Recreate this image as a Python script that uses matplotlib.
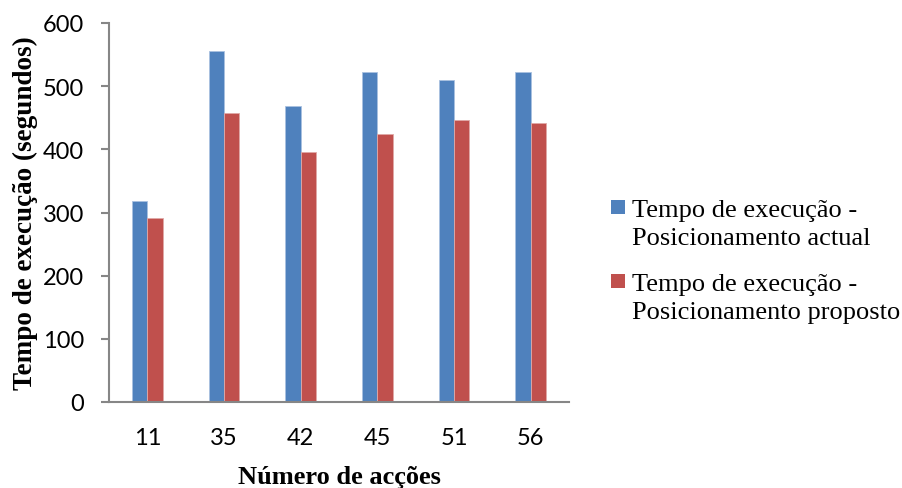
import matplotlib.pyplot as plt
from matplotlib.patches import Rectangle
import numpy as np

# Number of actions per test case and measured execution times (seconds)
acoes = ["11", "35", "42", "45", "51", "56"]
tempo_actual = [318, 556, 469, 522, 509, 522]
tempo_proposto = [292, 457, 396, 425, 446, 441]

serie_labels = [
    ["Tempo de execução -", "Posicionamento actual"],
    ["Tempo de execução -", "Posicionamento proposto"],
]
cores = ["#4F81BD", "#C0504D"]
bordas = ["#A9C1E0", "#E0A9A7"]

W, H = 903, 489
fig = plt.figure(figsize=(W / 100, H / 100), dpi=100)
ax = fig.add_axes([109 / W, 1 - 403 / H, 460 / W, 379 / H])

x = np.arange(len(acoes))
largura = 0.2
ax.bar(x - largura / 2, tempo_actual, largura, color=cores[0],
       edgecolor=bordas[0], linewidth=0.6)
ax.bar(x + largura / 2, tempo_proposto, largura, color=cores[1],
       edgecolor=bordas[1], linewidth=0.6)

ax.set_xlim(-0.5, len(acoes) - 0.5)
ax.set_ylim(0, 600)
ax.set_yticks(range(0, 601, 100))
ax.set_xticks(x)
ax.set_xticklabels(acoes)

for lado in ("top", "right"):
    ax.spines[lado].set_visible(False)
for lado in ("left", "bottom"):
    ax.spines[lado].set_color("#868686")
    ax.spines[lado].set_linewidth(1.5)

ax.tick_params(axis="y", length=6, width=1.5, color="#868686",
               labelsize=17, pad=12)
ax.tick_params(axis="x", length=0, labelsize=17, pad=18)
for lbl in ax.get_xticklabels() + ax.get_yticklabels():
    lbl.set_fontfamily("Lato")

ax.set_xlabel("Número de acções", family="Liberation Serif",
              fontweight="bold", fontsize=19, labelpad=12)
ax.set_ylabel("Tempo de execução (segundos)", family="Liberation Serif",
              fontweight="bold", fontsize=19.5, labelpad=3)

# legend drawn by hand: square marker beside the first line of each label
for i, (cor, linhas) in enumerate(zip(cores, serie_labels)):
    topo = 201 + i * 74
    fig.patches.append(Rectangle((611 / W, 1 - (topo + 14) / H), 14 / W, 14 / H,
                                 transform=fig.transFigure, facecolor=cor,
                                 edgecolor="none"))
    for j, linha in enumerate(linhas):
        fig.text(632 / W, 1 - (topo + 16 + j * 28) / H, linha,
                 family="Liberation Serif", fontsize=19, va="baseline",
                 ha="left", color="black")

fig.savefig("out.png", dpi=100)
